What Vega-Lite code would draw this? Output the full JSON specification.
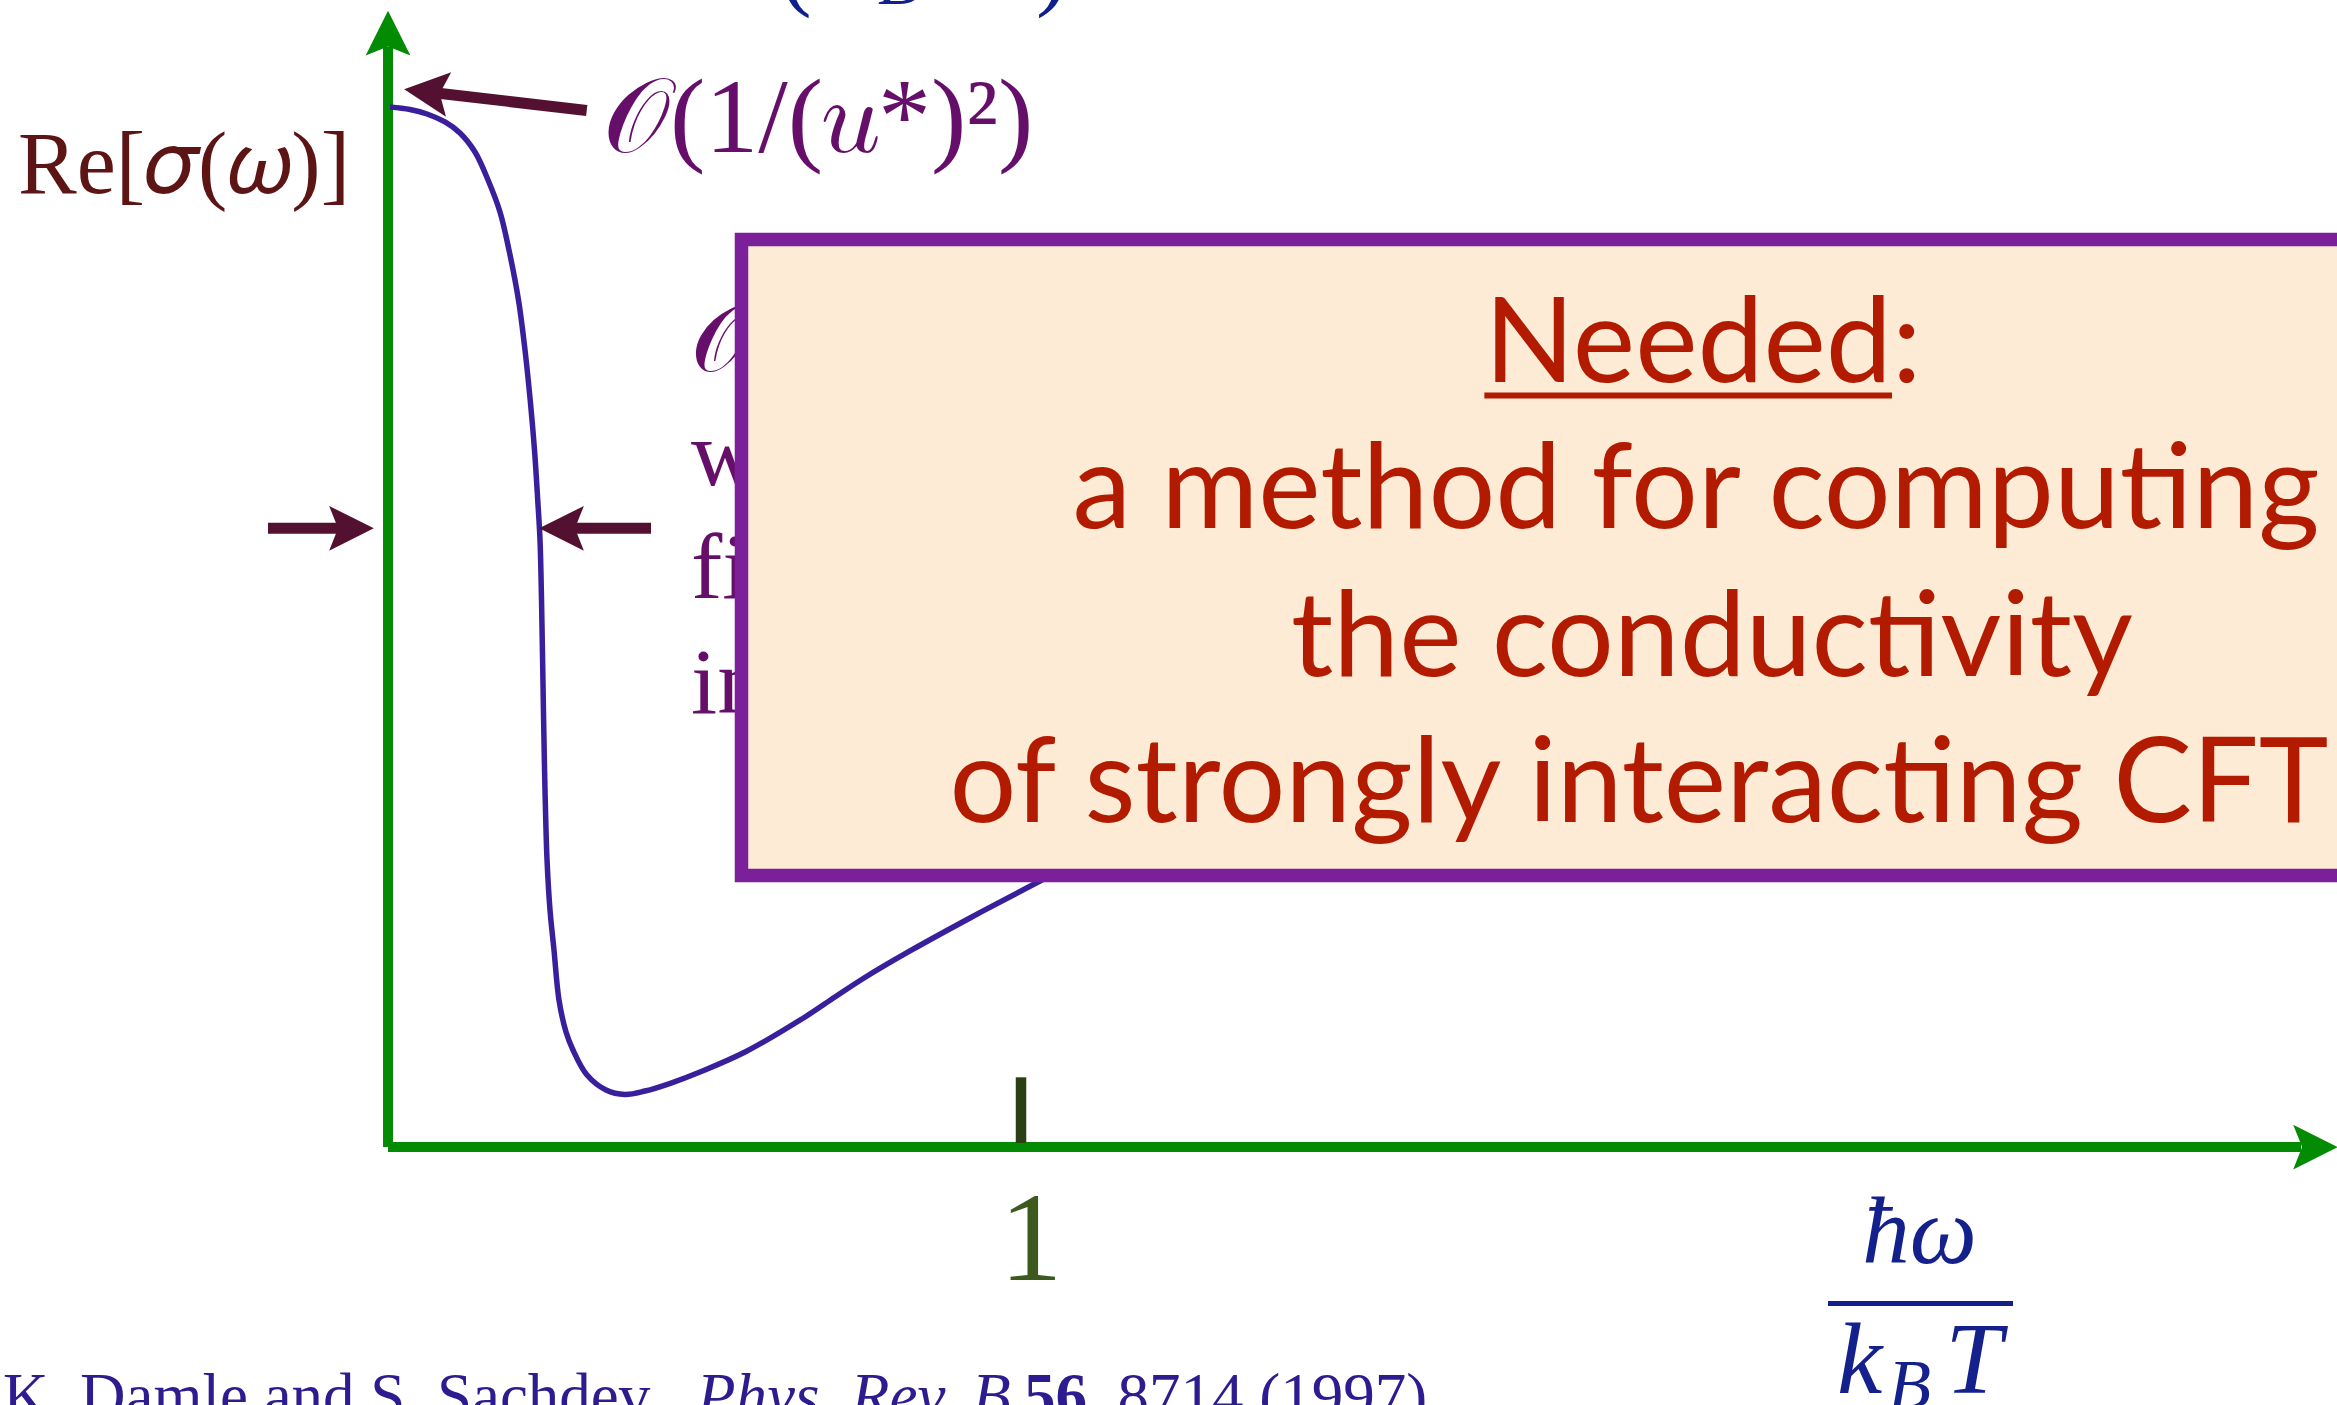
{
  "$schema": "https://vega.github.io/schema/vega-lite/v6.json",
  "width": 2337,
  "height": 1405,
  "autosize": {"type": "none"},
  "padding": 0,
  "background": "white",
  "config": {"view": {"stroke": null}},
  "datasets": {
    "curve": [
      {"x": 0.0031, "y": 1.0001}, {"x": 0.0347, "y": 0.9977}, {"x": 0.0616, "y": 0.9934},
      {"x": 0.0900, "y": 0.9857}, {"x": 0.1137, "y": 0.9751}, {"x": 0.1374, "y": 0.9568},
      {"x": 0.1580, "y": 0.9299}, {"x": 0.1769, "y": 0.8992}, {"x": 0.1911, "y": 0.8626},
      {"x": 0.2061, "y": 0.8145}, {"x": 0.2164, "y": 0.7665}, {"x": 0.2246, "y": 0.7184},
      {"x": 0.2314, "y": 0.6703}, {"x": 0.2365, "y": 0.6222}, {"x": 0.2401, "y": 0.5838},
      {"x": 0.2425, "y": 0.5261}, {"x": 0.2442, "y": 0.4684}, {"x": 0.2458, "y": 0.4107},
      {"x": 0.2480, "y": 0.3434}, {"x": 0.2512, "y": 0.2761}, {"x": 0.2559, "y": 0.2280},
      {"x": 0.2622, "y": 0.1895}, {"x": 0.2701, "y": 0.1414}, {"x": 0.2812, "y": 0.1107},
      {"x": 0.2922, "y": 0.0934}, {"x": 0.3144, "y": 0.0693}, {"x": 0.3444, "y": 0.0549},
      {"x": 0.3744, "y": 0.0506}, {"x": 0.4060, "y": 0.0539}, {"x": 0.4471, "y": 0.0616},
      {"x": 0.4929, "y": 0.0722}, {"x": 0.5640, "y": 0.0914}, {"x": 0.6588, "y": 0.1251},
      {"x": 0.7061, "y": 0.1443}, {"x": 0.7520, "y": 0.1626}, {"x": 0.8246, "y": 0.1886},
      {"x": 0.9194, "y": 0.2203}, {"x": 1.0300, "y": 0.2559}, {"x": 1.2038, "y": 0.3126},
      {"x": 1.4408, "y": 0.3866}
    ],
    "axisLines": [
      {"x": 0, "y": 0, "x2": 0, "y2": 1.058},
      {"x": 0, "y": 0, "x2": 3.0222, "y2": 0}
    ],
    "axisHeads": [
      {"x": 0, "y": 1.0711, "dir": "up"},
      {"x": 3.0451, "y": 0, "dir": "right"}
    ],
    "ticks": [{"x": 1, "y": 0.004, "y2": 0.0671}],
    "pointerShafts": [
      {"x": 0.3139, "y": 0.9967, "x2": 0.0695, "y2": 1.0141},
      {"x": -0.1896, "y": 0.595, "x2": -0.068, "y2": 0.595},
      {"x": 0.2638, "y": 0.595, "x2": 0.4155, "y2": 0.595}
    ],
    "pointerHeads": [
      {"x": 0.0606, "y": 1.0147, "dir": "upleft"},
      {"x": -0.0577, "y": 0.595, "dir": "right"},
      {"x": 0.2741, "y": 0.595, "dir": "left"}
    ],
    "notes": [
      {"x": 0.4787, "y": 0.7463, "label": "𝒪((𝑢*)² k_BT/ħ)"},
      {"x": 0.4787, "y": 0.6366, "label": "width of the peak"},
      {"x": 0.4787, "y": 0.5280, "label": "fixed by the"},
      {"x": 0.4787, "y": 0.4174, "label": "interactions"}
    ],
    "box": [{"x": 0.5584, "y": 0.8727, "x2": 3.3, "y2": 0.2612}],
    "boxText": [
      {"x": 2.0774, "y": 0.7360, "label": "Needed:"},
      {"x": 2.0664, "y": 0.5953, "label": "a method for computing"},
      {"x": 2.0916, "y": 0.4530, "label": "the conductivity"},
      {"x": 1.9763, "y": 0.3129, "label": "of strongly interacting CFT"}
    ],
    "underline": [{"x": 1.7320, "x2": 2.3760, "y": 0.7227}],
    "yTitle": [{"x": -0.5846, "y": 0.9174, "label": "Re[𝜎(𝜔)]"}],
    "peakNote": [{"x": 0.3396, "y": 0.9568, "label": "𝒪(1/(𝑢*)²)"}],
    "tickLabel": [{"x": 1.0158, "y": -0.1278, "label": "1"}],
    "xTitleNum": [{"x": 2.4195, "y": -0.1115, "label": "ħω"}],
    "xTitleDen": [
      {"x": 2.2890, "y": -0.2365, "label": "k"},
      {"x": 2.4600, "y": -0.2365, "label": "T"}
    ],
    "xTitleSub": [{"x": 2.3700, "y": -0.2509, "label": "B"}],
    "fractionBar": [{"x": 2.2749, "x2": 2.5672, "y": -0.1504}],
    "topParens": [
      {"x": 0.6193, "y": 1.1049, "label": "(k"},
      {"x": 0.9321, "y": 1.1049, "label": "T)"}
    ],
    "topSub": [{"x": 0.7741, "y": 1.0992, "label": "B"}],
    "refPlain": [
      {"x": -0.6083, "y": -0.2595, "label": "K. Damle and S. Sachdev,"},
      {"x": 1.1027, "y": -0.2595, "label": ", 8714 (1997)"}
    ],
    "refItalic": [{"x": 0.4881, "y": -0.2595, "label": "Phys. Rev. B"}],
    "refBold": [{"x": 1.0047, "y": -0.2595, "label": "56"}]
  },
  "encoding": {
    "x": {"field": "x", "type": "quantitative", "scale": {"domain": [-0.613, 3.079], "nice": false, "zero": false}, "axis": null},
    "y": {"field": "y", "type": "quantitative", "scale": {"domain": [-0.248, 1.103], "nice": false, "zero": false}, "axis": null}
  },
  "layer": [
    {
      "data": {"name": "axisLines"},
      "mark": {"type": "rule", "color": "#038b03", "strokeWidth": 10},
      "encoding": {"x2": {"field": "x2"}, "y2": {"field": "y2"}}
    },
    {
      "data": {"name": "axisHeads"},
      "mark": {"type": "point", "size": 2000, "filled": true, "opacity": 1, "color": "#038b03", "strokeWidth": 0},
      "encoding": {
        "shape": {
          "field": "dir", "type": "nominal", "legend": null,
          "scale": {
            "domain": ["up", "right", "left", "upleft"],
            "range": ["M0,-1L1,1L0,0.6L-1,1Z", "M1,0L-1,1L-0.6,0L-1,-1Z", "M-1,0L1,-1L0.6,0L1,1Z", "M-0.9932,-0.1167L1.1099,-0.8765L0.5959,0.07L0.8765,1.1099Z"]
          }
        }
      }
    },
    {
      "data": {"name": "ticks"},
      "mark": {"type": "rule", "color": "#2a4014", "strokeWidth": 10.5},
      "encoding": {"y2": {"field": "y2"}}
    },
    {
      "data": {"name": "curve"},
      "mark": {"type": "line", "color": "#3a1f9c", "strokeWidth": 5.5, "interpolate": "catmull-rom"}
    },
    {
      "data": {"name": "notes"},
      "mark": {"type": "text", "align": "left", "baseline": "alphabetic", "font": "Liberation Serif", "fontSize": 94, "color": "#650f6a"},
      "encoding": {"text": {"field": "label"}}
    },
    {
      "data": {"name": "box"},
      "mark": {"type": "rect", "fill": "#feebd5", "stroke": "#7b1f9b", "strokeWidth": 13.5},
      "encoding": {"x2": {"field": "x2"}, "y2": {"field": "y2"}}
    },
    {
      "data": {"name": "boxText"},
      "mark": {"type": "text", "align": "center", "baseline": "alphabetic", "font": "Lato", "fontSize": 118, "color": "#b31b00"},
      "encoding": {"text": {"field": "label"}}
    },
    {
      "data": {"name": "underline"},
      "mark": {"type": "rule", "color": "#b31b00", "strokeWidth": 6},
      "encoding": {"x2": {"field": "x2"}}
    },
    {
      "data": {"name": "pointerShafts"},
      "mark": {"type": "rule", "color": "#541030", "strokeWidth": 11},
      "encoding": {"x2": {"field": "x2"}, "y2": {"field": "y2"}}
    },
    {
      "data": {"name": "pointerHeads"},
      "mark": {"type": "point", "size": 2000, "filled": true, "opacity": 1, "color": "#541030", "strokeWidth": 0},
      "encoding": {
        "shape": {
          "field": "dir", "type": "nominal", "legend": null,
          "scale": {
            "domain": ["up", "right", "left", "upleft"],
            "range": ["M0,-1L1,1L0,0.6L-1,1Z", "M1,0L-1,1L-0.6,0L-1,-1Z", "M-1,0L1,-1L0.6,0L1,1Z", "M-0.9932,-0.1167L1.1099,-0.8765L0.5959,0.07L0.8765,1.1099Z"]
          }
        }
      }
    },
    {
      "data": {"name": "yTitle"},
      "mark": {"type": "text", "align": "left", "baseline": "alphabetic", "font": "Liberation Serif", "fontSize": 88, "color": "#5c1414"},
      "encoding": {"text": {"field": "label"}}
    },
    {
      "data": {"name": "peakNote"},
      "mark": {"type": "text", "align": "left", "baseline": "alphabetic", "font": "Liberation Serif", "fontSize": 106, "color": "#650f6a"},
      "encoding": {"text": {"field": "label"}}
    },
    {
      "data": {"name": "tickLabel"},
      "mark": {"type": "text", "align": "center", "baseline": "alphabetic", "font": "Liberation Serif", "fontSize": 126, "color": "#3d5a1e"},
      "encoding": {"text": {"field": "label"}}
    },
    {
      "data": {"name": "xTitleNum"},
      "mark": {"type": "text", "align": "center", "baseline": "alphabetic", "font": "Liberation Serif", "fontStyle": "italic", "fontSize": 95, "color": "#14208c"},
      "encoding": {"text": {"field": "label"}}
    },
    {
      "data": {"name": "xTitleDen"},
      "mark": {"type": "text", "align": "left", "baseline": "alphabetic", "font": "Liberation Serif", "fontStyle": "italic", "fontSize": 102, "color": "#14208c"},
      "encoding": {"text": {"field": "label"}}
    },
    {
      "data": {"name": "xTitleSub"},
      "mark": {"type": "text", "align": "left", "baseline": "alphabetic", "font": "Liberation Serif", "fontStyle": "italic", "fontSize": 70, "color": "#14208c"},
      "encoding": {"text": {"field": "label"}}
    },
    {
      "data": {"name": "fractionBar"},
      "mark": {"type": "rule", "color": "#14208c", "strokeWidth": 5},
      "encoding": {"x2": {"field": "x2"}}
    },
    {
      "data": {"name": "topParens"},
      "mark": {"type": "text", "align": "left", "baseline": "alphabetic", "font": "Liberation Serif", "fontSize": 95, "color": "#10208c"},
      "encoding": {"text": {"field": "label"}}
    },
    {
      "data": {"name": "topSub"},
      "mark": {"type": "text", "align": "left", "baseline": "alphabetic", "font": "Liberation Serif", "fontStyle": "italic", "fontSize": 70, "color": "#10208c"},
      "encoding": {"text": {"field": "label"}}
    },
    {
      "data": {"name": "refPlain"},
      "mark": {"type": "text", "align": "left", "baseline": "alphabetic", "font": "Liberation Serif", "fontSize": 63, "color": "#2c1c8f"},
      "encoding": {"text": {"field": "label"}}
    },
    {
      "data": {"name": "refItalic"},
      "mark": {"type": "text", "align": "left", "baseline": "alphabetic", "font": "Liberation Serif", "fontStyle": "italic", "fontSize": 63, "color": "#2c1c8f"},
      "encoding": {"text": {"field": "label"}}
    },
    {
      "data": {"name": "refBold"},
      "mark": {"type": "text", "align": "left", "baseline": "alphabetic", "font": "Liberation Serif", "fontWeight": "bold", "fontSize": 63, "color": "#2c1c8f"},
      "encoding": {"text": {"field": "label"}}
    }
  ]
}
